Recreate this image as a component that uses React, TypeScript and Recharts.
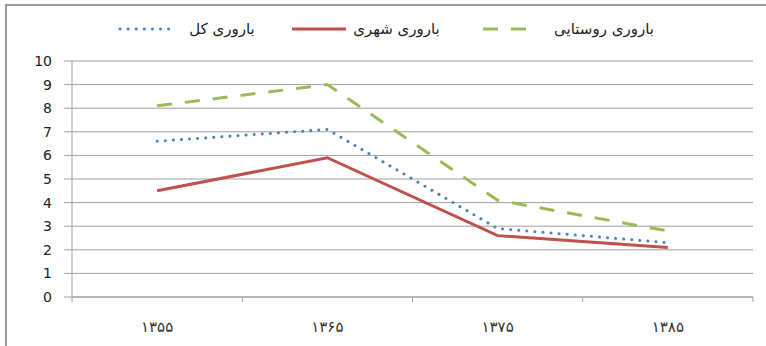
import React from 'react';
import { LineChart, Line, XAxis, YAxis, CartesianGrid } from 'recharts';

const categories = ['۱۳۵۵', '۱۳۶۵', '۱۳۷۵', '۱۳۸۵'];
const totalFertility = [6.6, 7.1, 2.9, 2.3];
const urbanFertility = [4.5, 5.9, 2.6, 2.1];
const ruralFertility = [8.1, 9.0, 4.1, 2.8];
const seriesNames = ['باروری کل', 'باروری شهری', 'باروری روستایی'];
const yTicks = [0, 1, 2, 3, 4, 5, 6, 7, 8, 9, 10];

const data = categories.map((c, i) => ({
  pos: i + 0.5,
  label: c,
  total: totalFertility[i],
  urban: urbanFertility[i],
  rural: ruralFertility[i],
}));

const xTicks: number[] = [];
for (let i = 0; i <= categories.length; i++) {
  xTicks.push(i);
  if (i < categories.length) xTicks.push(i + 0.5);
}

const FONT = '"DejaVu Sans", sans-serif';
const AXIS = '#a0a0a0';
const BLUE = '#4F81BD';
const RED = '#C0504D';
const GREEN = '#9BBB59';

const XTick = (props: any) => {
  const { x, y, payload } = props;
  const v = payload.value;
  const axisY = y - 5;
  if (Number.isInteger(v)) {
    return <line x1={x} x2={x} y1={axisY} y2={axisY + 5} stroke={AXIS} strokeWidth={1} />;
  }
  const idx = Math.floor(v);
  return (
    <text
      x={x}
      y={axisY + 35}
      textAnchor="middle"
      fontSize={15}
      fontFamily={FONT}
      fill="#333"
      style={{ letterSpacing: 3 }}
    >
      {categories[idx]}
    </text>
  );
};

const legendItems = [
  { name: seriesNames[0], color: BLUE, dash: '0.1 8', cap: 'round', sx: 120, sw: 56, tx: 182, tw: 80 },
  { name: seriesNames[1], color: RED, dash: undefined, cap: 'butt', sx: 292, sw: 54, tx: 350, tw: 93 },
  { name: seriesNames[2], color: GREEN, dash: '15 13', cap: 'butt', sx: 483, sw: 43, tx: 540, tw: 128 },
];

export default function App() {
  return (
    <div style={{ position: 'absolute', left: 0, top: 0, width: 766, height: 346, background: '#fff', overflow: 'hidden' }}>
      <div
        style={{
          position: 'absolute',
          left: 5,
          top: 4,
          width: 761,
          height: 342,
          borderTop: '2px solid #9a9a9a',
          borderLeft: '2px solid #9a9a9a',
          boxSizing: 'border-box',
        }}
      />
      <LineChart
        width={766}
        height={346}
        data={data}
        margin={{ top: 61, right: 13, left: 0, bottom: 0 }}
      >
        <CartesianGrid vertical={false} stroke={AXIS} strokeWidth={1} />
        <XAxis
          dataKey="pos"
          type="number"
          domain={[0, categories.length]}
          ticks={xTicks}
          interval={0}
          tickLine={false}
          tickSize={5}
          tickMargin={0}
          height={49}
          axisLine={{ stroke: AXIS }}
          tick={<XTick />}
        />
        <YAxis
          domain={[0, 10]}
          ticks={yTicks}
          interval={0}
          width={72}
          tickSize={8}
          tickMargin={12}
          axisLine={{ stroke: AXIS }}
          tickLine={{ stroke: AXIS }}
          tick={{ fontSize: 14, fontFamily: FONT, fill: '#222' }}
        />
        <Line
          dataKey="total"
          name={seriesNames[0]}
          type="linear"
          stroke={BLUE}
          strokeWidth={3}
          strokeDasharray="0.1 8"
          strokeLinecap="round"
          dot={false}
          activeDot={false}
          isAnimationActive={false}
        />
        <Line
          dataKey="urban"
          name={seriesNames[1]}
          type="linear"
          stroke={RED}
          strokeWidth={3}
          dot={false}
          activeDot={false}
          isAnimationActive={false}
        />
        <Line
          dataKey="rural"
          name={seriesNames[2]}
          type="linear"
          stroke={GREEN}
          strokeWidth={3}
          strokeDasharray="15 13"
          dot={false}
          activeDot={false}
          isAnimationActive={false}
        />
      </LineChart>
      <svg style={{ position: 'absolute', left: 0, top: 0 }} width={766} height={60}>
        {legendItems.map((it, i) => (
          <g key={i}>
            <line
              x1={it.sx}
              x2={it.sx + it.sw}
              y1={29}
              y2={29}
              stroke={it.color}
              strokeWidth={3}
              strokeDasharray={it.dash}
              strokeLinecap={it.cap as any}
            />
            <text
              x={it.tx + it.tw / 2}
              y={34}
              textAnchor="middle"
              fontSize={15}
              fontFamily={FONT}
              fill="#222"
            >
              {it.name}
            </text>
          </g>
        ))}
      </svg>
    </div>
  );
}
